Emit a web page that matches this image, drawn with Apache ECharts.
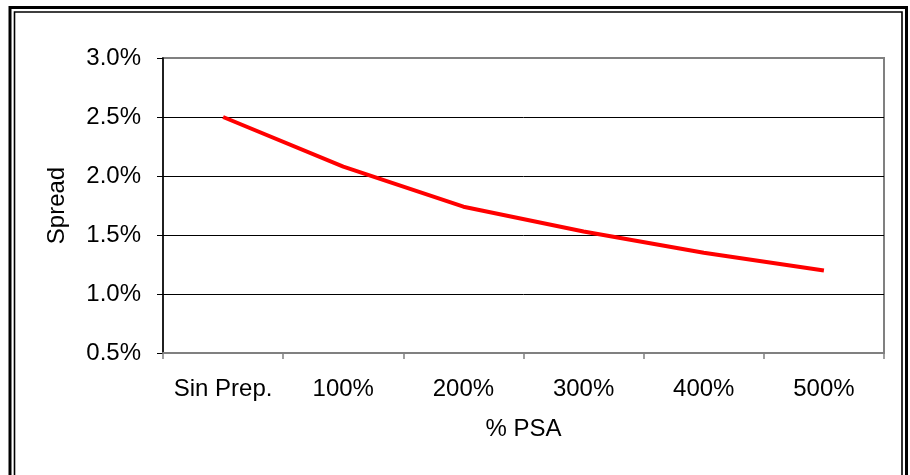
<!DOCTYPE html>
<html>
<head>
<meta charset="utf-8">
<title>Spread vs % PSA</title>
<script src="https://cdn.jsdelivr.net/npm/echarts@6/dist/echarts.min.js"></script>
<style>
  html, body { margin: 0; padding: 0; background: #fff; }
  #chart { width: 910px; height: 475px; }
</style>
</head>
<body>
<div id="chart"></div>
<script>
// Prepayment scenarios on the horizontal axis
const categories = ['Sin Prep.', '100%', '200%', '300%', '400%', '500%'];
// Spread (in percent) for each scenario
const spreadValues = [2.50, 2.08, 1.74, 1.53, 1.35, 1.20];
// Vertical axis range and step (percent)
const yMin = 0.5;
const yMax = 3.0;
const yStep = 0.5;

const font = '"Liberation Sans", Arial, sans-serif';
const chart = echarts.init(document.getElementById('chart'), null, { renderer: 'canvas' });

chart.setOption({
  animation: false,
  backgroundColor: '#ffffff',
  grid: {
    left: 163, top: 58, right: 26, bottom: 122,
    show: true, borderColor: '#808080', borderWidth: 2, backgroundColor: 'transparent'
  },
  graphic: [
    // double frame around the chart
    { type: 'rect', silent: true, shape: { x: 10, y: 7.5, width: 896.5, height: 500 },
      style: { fill: 'none', stroke: '#000', lineWidth: 3 } },
    { type: 'rect', silent: true, shape: { x: 14.5, y: 12, width: 887.5, height: 500 },
      style: { fill: 'none', stroke: '#000', lineWidth: 1.6 } }
  ],
  xAxis: {
    type: 'category',
    data: categories,
    boundaryGap: true,
    name: '% PSA',
    nameLocation: 'middle',
    nameGap: 64,
    nameTextStyle: { fontFamily: font, fontSize: 24, color: '#000', verticalAlign: 'top' },
    axisLine: { show: true, lineStyle: { color: '#808080', width: 2 } },
    axisTick: { show: true, interval: 0, length: 6, inside: false, lineStyle: { color: '#808080', width: 1.5 } },
    axisLabel: { interval: 0, hideOverlap: false, fontFamily: font, fontSize: 24, color: '#000', margin: 24 },
    splitLine: { show: false }
  },
  yAxis: {
    type: 'value',
    min: yMin, max: yMax, interval: yStep,
    name: 'Spread',
    nameLocation: 'middle',
    nameGap: 94,
    nameRotate: 90,
    nameTextStyle: { fontFamily: font, fontSize: 24, color: '#000' },
    axisLine: { show: true, lineStyle: { color: '#000', width: 1.5 } },
    axisTick: { show: true, length: 6, lineStyle: { color: '#000', width: 1 } },
    axisLabel: {
      fontFamily: font, fontSize: 24, color: '#000', margin: 22,
      formatter: v => v.toFixed(1) + '%'
    },
    splitLine: { show: true, showMinLine: false, showMaxLine: false, lineStyle: { color: '#000', width: 1 } }
  },
  series: [{
    type: 'line',
    data: spreadValues,
    symbol: 'none',
    smooth: false,
    lineStyle: { color: '#ff0000', width: 4 },
    z: 5
  }]
});
</script>
</body>
</html>
